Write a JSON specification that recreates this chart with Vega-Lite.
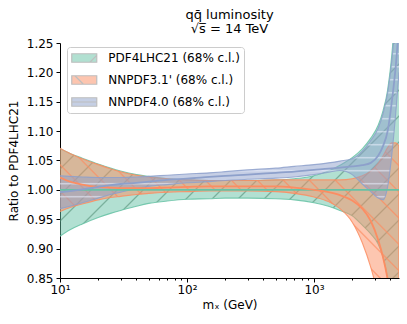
{
"$schema":"https://vega.github.io/schema/vega-lite/v6.json",
"autosize":{"type":"none"},
"padding":{"left":60,"top":43,"right":8,"bottom":46},
"width":339,"height":235,
"background":"white",
"config":{"view":{"stroke":null},"font":"DejaVu Sans",
"axis":{"labelFont":"DejaVu Sans","labelFontSize":12,"labelColor":"black","titleFont":"DejaVu Sans","titleFontSize":12,"titleFontWeight":"normal","titleColor":"black","domainColor":"black","tickColor":"black","grid":false,"domainWidth":1,"tickWidth":1},
"axisY":{"labelOverlap":false,"labelSeparation":0}},
"title":{"text":["qq̄ luminosity","√s̅ = 14 TeV"],"frame":"group","anchor":"middle","fontSize":13,"fontWeight":"normal","font":"DejaVu Sans","color":"black","lineHeight":14.5,"offset":1},
"data":{"values":[
{"pdf":"PDF4LHC21 (68% c.l.)","m":10,"lo":0.921,"c":1,"hi":1.070},
{"pdf":"PDF4LHC21 (68% c.l.)","m":12,"lo":0.932,"c":1,"hi":1.062},
{"pdf":"PDF4LHC21 (68% c.l.)","m":15,"lo":0.942,"c":1,"hi":1.054},
{"pdf":"PDF4LHC21 (68% c.l.)","m":20,"lo":0.953,"c":1,"hi":1.044},
{"pdf":"PDF4LHC21 (68% c.l.)","m":25,"lo":0.960,"c":1,"hi":1.037},
{"pdf":"PDF4LHC21 (68% c.l.)","m":30,"lo":0.965,"c":1,"hi":1.032},
{"pdf":"PDF4LHC21 (68% c.l.)","m":40,"lo":0.972,"c":1,"hi":1.026},
{"pdf":"PDF4LHC21 (68% c.l.)","m":50,"lo":0.977,"c":1,"hi":1.023},
{"pdf":"PDF4LHC21 (68% c.l.)","m":70,"lo":0.981,"c":1,"hi":1.019},
{"pdf":"PDF4LHC21 (68% c.l.)","m":100,"lo":0.984,"c":1,"hi":1.017},
{"pdf":"PDF4LHC21 (68% c.l.)","m":150,"lo":0.985,"c":1,"hi":1.016},
{"pdf":"PDF4LHC21 (68% c.l.)","m":200,"lo":0.986,"c":1,"hi":1.016},
{"pdf":"PDF4LHC21 (68% c.l.)","m":300,"lo":0.986,"c":1,"hi":1.016},
{"pdf":"PDF4LHC21 (68% c.l.)","m":500,"lo":0.985,"c":1,"hi":1.017},
{"pdf":"PDF4LHC21 (68% c.l.)","m":700,"lo":0.983,"c":1,"hi":1.019},
{"pdf":"PDF4LHC21 (68% c.l.)","m":1000,"lo":0.978,"c":1,"hi":1.024},
{"pdf":"PDF4LHC21 (68% c.l.)","m":1300,"lo":0.972,"c":1,"hi":1.032},
{"pdf":"PDF4LHC21 (68% c.l.)","m":1600,"lo":0.965,"c":1,"hi":1.042},
{"pdf":"PDF4LHC21 (68% c.l.)","m":2000,"lo":0.956,"c":1,"hi":1.055},
{"pdf":"PDF4LHC21 (68% c.l.)","m":2400,"lo":0.940,"c":1,"hi":1.070},
{"pdf":"PDF4LHC21 (68% c.l.)","m":2800,"lo":0.925,"c":1,"hi":1.088},
{"pdf":"PDF4LHC21 (68% c.l.)","m":3200,"lo":0.908,"c":1,"hi":1.110},
{"pdf":"PDF4LHC21 (68% c.l.)","m":3500,"lo":0.885,"c":1,"hi":1.135},
{"pdf":"PDF4LHC21 (68% c.l.)","m":3800,"lo":0.850,"c":1,"hi":1.170},
{"pdf":"PDF4LHC21 (68% c.l.)","m":4100,"lo":0.800,"c":1,"hi":1.230},
{"pdf":"PDF4LHC21 (68% c.l.)","m":4400,"lo":0.740,"c":1,"hi":1.320},
{"pdf":"PDF4LHC21 (68% c.l.)","m":4670,"lo":0.680,"c":1,"hi":1.450},
{"pdf":"NNPDF3.1' (68% c.l.)","m":10,"lo":0.963,"c":1.021,"hi":1.071},
{"pdf":"NNPDF3.1' (68% c.l.)","m":12,"lo":0.970,"c":1.014,"hi":1.062},
{"pdf":"NNPDF3.1' (68% c.l.)","m":15,"lo":0.976,"c":1.009,"hi":1.053},
{"pdf":"NNPDF3.1' (68% c.l.)","m":20,"lo":0.983,"c":1.005,"hi":1.043},
{"pdf":"NNPDF3.1' (68% c.l.)","m":25,"lo":0.987,"c":1.004,"hi":1.036},
{"pdf":"NNPDF3.1' (68% c.l.)","m":30,"lo":0.989,"c":1.003,"hi":1.031},
{"pdf":"NNPDF3.1' (68% c.l.)","m":40,"lo":0.992,"c":1.003,"hi":1.025},
{"pdf":"NNPDF3.1' (68% c.l.)","m":50,"lo":0.994,"c":1.003,"hi":1.022},
{"pdf":"NNPDF3.1' (68% c.l.)","m":70,"lo":0.996,"c":1.004,"hi":1.019},
{"pdf":"NNPDF3.1' (68% c.l.)","m":100,"lo":0.997,"c":1.005,"hi":1.017},
{"pdf":"NNPDF3.1' (68% c.l.)","m":150,"lo":0.998,"c":1.006,"hi":1.016},
{"pdf":"NNPDF3.1' (68% c.l.)","m":200,"lo":0.998,"c":1.006,"hi":1.016},
{"pdf":"NNPDF3.1' (68% c.l.)","m":300,"lo":0.998,"c":1.006,"hi":1.016},
{"pdf":"NNPDF3.1' (68% c.l.)","m":500,"lo":0.997,"c":1.006,"hi":1.017},
{"pdf":"NNPDF3.1' (68% c.l.)","m":700,"lo":0.994,"c":1.004,"hi":1.017},
{"pdf":"NNPDF3.1' (68% c.l.)","m":1000,"lo":0.988,"c":1.000,"hi":1.017},
{"pdf":"NNPDF3.1' (68% c.l.)","m":1300,"lo":0.980,"c":0.996,"hi":1.017},
{"pdf":"NNPDF3.1' (68% c.l.)","m":1600,"lo":0.968,"c":0.991,"hi":1.017},
{"pdf":"NNPDF3.1' (68% c.l.)","m":2000,"lo":0.945,"c":0.982,"hi":1.019},
{"pdf":"NNPDF3.1' (68% c.l.)","m":2400,"lo":0.910,"c":0.968,"hi":1.024},
{"pdf":"NNPDF3.1' (68% c.l.)","m":2800,"lo":0.868,"c":0.947,"hi":1.032},
{"pdf":"NNPDF3.1' (68% c.l.)","m":3200,"lo":0.820,"c":0.915,"hi":1.045},
{"pdf":"NNPDF3.1' (68% c.l.)","m":3500,"lo":0.780,"c":0.885,"hi":1.058},
{"pdf":"NNPDF3.1' (68% c.l.)","m":3800,"lo":0.730,"c":0.848,"hi":1.072},
{"pdf":"NNPDF3.1' (68% c.l.)","m":4100,"lo":0.680,"c":0.800,"hi":1.080},
{"pdf":"NNPDF3.1' (68% c.l.)","m":4400,"lo":0.630,"c":0.750,"hi":1.080},
{"pdf":"NNPDF3.1' (68% c.l.)","m":4670,"lo":0.580,"c":0.700,"hi":1.075},
{"pdf":"NNPDF4.0 (68% c.l.)","m":10,"lo":0.968,"c":0.996,"hi":1.024},
{"pdf":"NNPDF4.0 (68% c.l.)","m":12,"lo":0.972,"c":0.998,"hi":1.023},
{"pdf":"NNPDF4.0 (68% c.l.)","m":15,"lo":0.978,"c":1.001,"hi":1.022},
{"pdf":"NNPDF4.0 (68% c.l.)","m":20,"lo":0.986,"c":1.005,"hi":1.021},
{"pdf":"NNPDF4.0 (68% c.l.)","m":25,"lo":0.992,"c":1.008,"hi":1.021},
{"pdf":"NNPDF4.0 (68% c.l.)","m":30,"lo":0.996,"c":1.010,"hi":1.021},
{"pdf":"NNPDF4.0 (68% c.l.)","m":40,"lo":1.002,"c":1.012,"hi":1.022},
{"pdf":"NNPDF4.0 (68% c.l.)","m":50,"lo":1.006,"c":1.014,"hi":1.023},
{"pdf":"NNPDF4.0 (68% c.l.)","m":70,"lo":1.009,"c":1.017,"hi":1.025},
{"pdf":"NNPDF4.0 (68% c.l.)","m":100,"lo":1.012,"c":1.019,"hi":1.027},
{"pdf":"NNPDF4.0 (68% c.l.)","m":150,"lo":1.014,"c":1.022,"hi":1.029},
{"pdf":"NNPDF4.0 (68% c.l.)","m":200,"lo":1.016,"c":1.024,"hi":1.031},
{"pdf":"NNPDF4.0 (68% c.l.)","m":300,"lo":1.018,"c":1.026,"hi":1.034},
{"pdf":"NNPDF4.0 (68% c.l.)","m":500,"lo":1.020,"c":1.029,"hi":1.037},
{"pdf":"NNPDF4.0 (68% c.l.)","m":700,"lo":1.022,"c":1.031,"hi":1.040},
{"pdf":"NNPDF4.0 (68% c.l.)","m":1000,"lo":1.026,"c":1.034,"hi":1.043},
{"pdf":"NNPDF4.0 (68% c.l.)","m":1300,"lo":1.030,"c":1.036,"hi":1.046},
{"pdf":"NNPDF4.0 (68% c.l.)","m":1600,"lo":1.033,"c":1.038,"hi":1.049},
{"pdf":"NNPDF4.0 (68% c.l.)","m":2000,"lo":1.026,"c":1.040,"hi":1.053},
{"pdf":"NNPDF4.0 (68% c.l.)","m":2400,"lo":1.010,"c":1.042,"hi":1.066},
{"pdf":"NNPDF4.0 (68% c.l.)","m":2800,"lo":0.997,"c":1.046,"hi":1.084},
{"pdf":"NNPDF4.0 (68% c.l.)","m":3200,"lo":0.986,"c":1.058,"hi":1.105},
{"pdf":"NNPDF4.0 (68% c.l.)","m":3500,"lo":0.983,"c":1.075,"hi":1.130},
{"pdf":"NNPDF4.0 (68% c.l.)","m":3800,"lo":1.005,"c":1.100,"hi":1.165},
{"pdf":"NNPDF4.0 (68% c.l.)","m":4100,"lo":1.060,"c":1.150,"hi":1.220},
{"pdf":"NNPDF4.0 (68% c.l.)","m":4400,"lo":1.130,"c":1.210,"hi":1.300},
{"pdf":"NNPDF4.0 (68% c.l.)","m":4670,"lo":1.200,"c":1.280,"hi":1.420}
]},
"encoding":{"x":{"field":"m","type":"quantitative","title":"mₓ (GeV)","scale":{"type":"log","domain":[10,4670],"nice":false},
"axis":{"values":[10,20,30,40,50,60,70,80,90,100,200,300,400,500,600,700,800,900,1000,2000,3000,4000],"tickCount":60,
"labelExpr":"datum.value == 10 ? '10¹' : datum.value == 100 ? '10²' : datum.value == 1000 ? '10³' : ''",
"tickSize":{"condition":{"test":"datum.value == 10 || datum.value == 100 || datum.value == 1000","value":4},"value":2},
"labelFlush":false,"labelOverlap":false,"labelPadding":2,"titlePadding":4}}},
"layer":[
{"transform":[{"filter":{"field":"pdf","equal":"PDF4LHC21 (68% c.l.)"}}],
 "mark":{"type":"area","interpolate":"monotone","opacity":0.5,"clip":true},
 "encoding":{"y":{"field":"lo","type":"quantitative","title":"Ratio to PDF4LHC21","scale":{"domain":[0.85,1.25],"nice":false,"zero":false},
   "axis":{"values":[0.85,0.9,0.95,1,1.05,1.1,1.15,1.2,1.25],"tickCount":30,"labelExpr":"format(datum.value, '.2f')","tickSize":4,"labelPadding":3,"titlePadding":6,"labelOverlap":false,"labelSeparation":0}},
  "y2":{"field":"hi"},
  "fill":{"field":"pdf","type":"nominal","scale":{"domain":["PDF4LHC21 (68% c.l.)","NNPDF3.1' (68% c.l.)","NNPDF4.0 (68% c.l.)"],"range":["#66c2a5","#fc8d62","#8da0cb"]},
   "legend":{"title":null,"orient":"none","legendX":7,"legendY":4,"direction":"vertical","padding":4,"fillColor":"rgba(255,255,255,0.8)","strokeColor":"#cccccc","cornerRadius":3,
    "symbolSize":156.25,"symbolOpacity":0.5,"symbolStrokeColor":"#7f7f7f","symbolStrokeWidth":1.2,"symbolOffset":6.25,"labelOffset":17,"labelFontSize":12,"labelFont":"DejaVu Sans","labelColor":"black","rowPadding":8,"labelLimit":300,
    "encode":{"symbols":{"update":{"shape":{"signal":"indexof(datum.value,'PDF4LHC')>=0 ? 'M-2,-0.68H2V0.68H-2Z M0.9,0.68L2,-0.42' : indexof(datum.value,'3.1')>=0 ? 'M-2,-0.68H2V0.68H-2Z M-1.5,-0.68L-0.14,0.68' : 'M-2,-0.68H2V0.68H-2Z M-2,0H2'"},"stroke":{"value":"#7f7f7f"},"strokeWidth":{"value":1.2}}}}}}}},
{"transform":[{"filter":{"field":"pdf","equal":"PDF4LHC21 (68% c.l.)"}}],
 "mark":{"type":"area","interpolate":"monotone","opacity":0.6,"clip":true,
  "fill":{"gradient":"linear","x1":0,"y1":0,"x2":0.8395,"y2":1.1203,"stops":[
{"offset":0.0100,"color":"#508c7300"},{"offset":0.0122,"color":"#508c73"},{"offset":0.0143,"color":"#508c7300"},
{"offset":0.0429,"color":"#508c7300"},{"offset":0.0450,"color":"#508c73"},{"offset":0.0472,"color":"#508c7300"},
{"offset":0.0757,"color":"#508c7300"},{"offset":0.0779,"color":"#508c73"},{"offset":0.0800,"color":"#508c7300"},
{"offset":0.1086,"color":"#508c7300"},{"offset":0.1107,"color":"#508c73"},{"offset":0.1129,"color":"#508c7300"},
{"offset":0.1414,"color":"#508c7300"},{"offset":0.1436,"color":"#508c73"},{"offset":0.1457,"color":"#508c7300"},
{"offset":0.1743,"color":"#508c7300"},{"offset":0.1764,"color":"#508c73"},{"offset":0.1786,"color":"#508c7300"},
{"offset":0.2071,"color":"#508c7300"},{"offset":0.2093,"color":"#508c73"},{"offset":0.2114,"color":"#508c7300"},
{"offset":0.2400,"color":"#508c7300"},{"offset":0.2421,"color":"#508c73"},{"offset":0.2443,"color":"#508c7300"},
{"offset":0.2728,"color":"#508c7300"},{"offset":0.2750,"color":"#508c73"},{"offset":0.2771,"color":"#508c7300"},
{"offset":0.3057,"color":"#508c7300"},{"offset":0.3078,"color":"#508c73"},{"offset":0.3100,"color":"#508c7300"},
{"offset":0.3385,"color":"#508c7300"},{"offset":0.3407,"color":"#508c73"},{"offset":0.3428,"color":"#508c7300"},
{"offset":0.3714,"color":"#508c7300"},{"offset":0.3735,"color":"#508c73"},{"offset":0.3757,"color":"#508c7300"},
{"offset":0.4042,"color":"#508c7300"},{"offset":0.4064,"color":"#508c73"},{"offset":0.4085,"color":"#508c7300"},
{"offset":0.4371,"color":"#508c7300"},{"offset":0.4392,"color":"#508c73"},{"offset":0.4414,"color":"#508c7300"},
{"offset":0.4699,"color":"#508c7300"},{"offset":0.4721,"color":"#508c73"},{"offset":0.4742,"color":"#508c7300"},
{"offset":0.5028,"color":"#508c7300"},{"offset":0.5049,"color":"#508c73"},{"offset":0.5071,"color":"#508c7300"},
{"offset":0.5356,"color":"#508c7300"},{"offset":0.5378,"color":"#508c73"},{"offset":0.5399,"color":"#508c7300"},
{"offset":0.5685,"color":"#508c7300"},{"offset":0.5706,"color":"#508c73"},{"offset":0.5728,"color":"#508c7300"},
{"offset":0.6013,"color":"#508c7300"},{"offset":0.6035,"color":"#508c73"},{"offset":0.6056,"color":"#508c7300"},
{"offset":0.6342,"color":"#508c7300"},{"offset":0.6363,"color":"#508c73"},{"offset":0.6385,"color":"#508c7300"},
{"offset":0.6670,"color":"#508c7300"},{"offset":0.6692,"color":"#508c73"},{"offset":0.6713,"color":"#508c7300"},
{"offset":0.6999,"color":"#508c7300"},{"offset":0.7020,"color":"#508c73"},{"offset":0.7042,"color":"#508c7300"},
{"offset":0.7327,"color":"#508c7300"},{"offset":0.7349,"color":"#508c73"},{"offset":0.7370,"color":"#508c7300"},
{"offset":0.7656,"color":"#508c7300"},{"offset":0.7677,"color":"#508c73"},{"offset":0.7699,"color":"#508c7300"},
{"offset":0.7984,"color":"#508c7300"},{"offset":0.8006,"color":"#508c73"},{"offset":0.8027,"color":"#508c7300"},
{"offset":0.8313,"color":"#508c7300"},{"offset":0.8334,"color":"#508c73"},{"offset":0.8356,"color":"#508c7300"},
{"offset":0.8641,"color":"#508c7300"},{"offset":0.8663,"color":"#508c73"},{"offset":0.8684,"color":"#508c7300"},
{"offset":0.8970,"color":"#508c7300"},{"offset":0.8991,"color":"#508c73"},{"offset":0.9013,"color":"#508c7300"},
{"offset":0.9298,"color":"#508c7300"},{"offset":0.9320,"color":"#508c73"},{"offset":0.9341,"color":"#508c7300"},
{"offset":0.9627,"color":"#508c7300"},{"offset":0.9648,"color":"#508c73"},{"offset":0.9670,"color":"#508c7300"},
{"offset":0.9955,"color":"#508c7300"},{"offset":0.9976,"color":"#508c73"},{"offset":0.9998,"color":"#508c7300"}]}},
 "encoding":{"y":{"field":"lo","type":"quantitative","title":"Ratio to PDF4LHC21"},"y2":{"field":"hi"}}},
{"transform":[{"filter":{"field":"pdf","equal":"PDF4LHC21 (68% c.l.)"}}],
 "mark":{"type":"line","interpolate":"monotone","clip":true,"color":"#66c2a5","strokeWidth":1.1,"opacity":0.85},
 "encoding":{"y":{"field":"lo","type":"quantitative","title":"Ratio to PDF4LHC21"}}},
{"transform":[{"filter":{"field":"pdf","equal":"PDF4LHC21 (68% c.l.)"}}],
 "mark":{"type":"line","interpolate":"monotone","clip":true,"color":"#66c2a5","strokeWidth":1.1,"opacity":0.85},
 "encoding":{"y":{"field":"hi","type":"quantitative","title":"Ratio to PDF4LHC21"}}},
{"transform":[{"filter":{"field":"pdf","equal":"NNPDF3.1' (68% c.l.)"}}],
 "mark":{"type":"area","interpolate":"monotone","opacity":0.5,"clip":true},
 "encoding":{"y":{"field":"lo","type":"quantitative","title":"Ratio to PDF4LHC21"},"y2":{"field":"hi"},"fill":{"field":"pdf","type":"nominal"}}},
{"transform":[{"filter":{"field":"pdf","equal":"NNPDF3.1' (68% c.l.)"}}],
 "mark":{"type":"area","interpolate":"monotone","opacity":0.8,"clip":true,
  "fill":{"gradient":"linear","x1":0,"y1":1,"x2":1.0703,"y2":0.0819,"stops":[
{"offset":0.0120,"color":"#fc8d6200"},{"offset":0.0147,"color":"#fc8d62"},{"offset":0.0174,"color":"#fc8d6200"},
{"offset":0.0533,"color":"#fc8d6200"},{"offset":0.0560,"color":"#fc8d62"},{"offset":0.0587,"color":"#fc8d6200"},
{"offset":0.0946,"color":"#fc8d6200"},{"offset":0.0973,"color":"#fc8d62"},{"offset":0.1000,"color":"#fc8d6200"},
{"offset":0.1358,"color":"#fc8d6200"},{"offset":0.1385,"color":"#fc8d62"},{"offset":0.1412,"color":"#fc8d6200"},
{"offset":0.1771,"color":"#fc8d6200"},{"offset":0.1798,"color":"#fc8d62"},{"offset":0.1825,"color":"#fc8d6200"},
{"offset":0.2184,"color":"#fc8d6200"},{"offset":0.2211,"color":"#fc8d62"},{"offset":0.2238,"color":"#fc8d6200"},
{"offset":0.2597,"color":"#fc8d6200"},{"offset":0.2624,"color":"#fc8d62"},{"offset":0.2651,"color":"#fc8d6200"},
{"offset":0.3010,"color":"#fc8d6200"},{"offset":0.3037,"color":"#fc8d62"},{"offset":0.3064,"color":"#fc8d6200"},
{"offset":0.3422,"color":"#fc8d6200"},{"offset":0.3449,"color":"#fc8d62"},{"offset":0.3476,"color":"#fc8d6200"},
{"offset":0.3835,"color":"#fc8d6200"},{"offset":0.3862,"color":"#fc8d62"},{"offset":0.3889,"color":"#fc8d6200"},
{"offset":0.4248,"color":"#fc8d6200"},{"offset":0.4275,"color":"#fc8d62"},{"offset":0.4302,"color":"#fc8d6200"},
{"offset":0.4661,"color":"#fc8d6200"},{"offset":0.4688,"color":"#fc8d62"},{"offset":0.4715,"color":"#fc8d6200"},
{"offset":0.5074,"color":"#fc8d6200"},{"offset":0.5101,"color":"#fc8d62"},{"offset":0.5128,"color":"#fc8d6200"},
{"offset":0.5486,"color":"#fc8d6200"},{"offset":0.5513,"color":"#fc8d62"},{"offset":0.5540,"color":"#fc8d6200"},
{"offset":0.5899,"color":"#fc8d6200"},{"offset":0.5926,"color":"#fc8d62"},{"offset":0.5953,"color":"#fc8d6200"},
{"offset":0.6312,"color":"#fc8d6200"},{"offset":0.6339,"color":"#fc8d62"},{"offset":0.6366,"color":"#fc8d6200"},
{"offset":0.6725,"color":"#fc8d6200"},{"offset":0.6752,"color":"#fc8d62"},{"offset":0.6779,"color":"#fc8d6200"},
{"offset":0.7138,"color":"#fc8d6200"},{"offset":0.7165,"color":"#fc8d62"},{"offset":0.7192,"color":"#fc8d6200"},
{"offset":0.7550,"color":"#fc8d6200"},{"offset":0.7577,"color":"#fc8d62"},{"offset":0.7604,"color":"#fc8d6200"},
{"offset":0.7963,"color":"#fc8d6200"},{"offset":0.7990,"color":"#fc8d62"},{"offset":0.8017,"color":"#fc8d6200"},
{"offset":0.8376,"color":"#fc8d6200"},{"offset":0.8403,"color":"#fc8d62"},{"offset":0.8430,"color":"#fc8d6200"},
{"offset":0.8789,"color":"#fc8d6200"},{"offset":0.8816,"color":"#fc8d62"},{"offset":0.8843,"color":"#fc8d6200"},
{"offset":0.9202,"color":"#fc8d6200"},{"offset":0.9229,"color":"#fc8d62"},{"offset":0.9256,"color":"#fc8d6200"},
{"offset":0.9614,"color":"#fc8d6200"},{"offset":0.9641,"color":"#fc8d62"},{"offset":0.9668,"color":"#fc8d6200"}]}},
 "encoding":{"y":{"field":"lo","type":"quantitative","title":"Ratio to PDF4LHC21"},"y2":{"field":"hi"}}},
{"transform":[{"filter":{"field":"pdf","equal":"NNPDF3.1' (68% c.l.)"}}],
 "mark":{"type":"line","interpolate":"monotone","clip":true,"color":"#fc8d62","strokeWidth":1.1,"opacity":0.85},
 "encoding":{"y":{"field":"lo","type":"quantitative","title":"Ratio to PDF4LHC21"}}},
{"transform":[{"filter":{"field":"pdf","equal":"NNPDF3.1' (68% c.l.)"}}],
 "mark":{"type":"line","interpolate":"monotone","clip":true,"color":"#fc8d62","strokeWidth":1.1,"opacity":0.85},
 "encoding":{"y":{"field":"hi","type":"quantitative","title":"Ratio to PDF4LHC21"}}},
{"transform":[{"filter":{"field":"pdf","equal":"NNPDF3.1' (68% c.l.)"}},{"filter":{"field":"m","equal":4670}}],
 "mark":{"type":"rule","clip":true,"color":"#fc8d62","strokeWidth":1.4,"opacity":0.85},
 "encoding":{"y":{"field":"lo","type":"quantitative","title":"Ratio to PDF4LHC21"},"y2":{"field":"hi"}}},
{"transform":[{"filter":{"field":"pdf","equal":"NNPDF4.0 (68% c.l.)"}}],
 "mark":{"type":"area","interpolate":"monotone","opacity":0.5,"clip":true},
 "encoding":{"y":{"field":"lo","type":"quantitative","title":"Ratio to PDF4LHC21"},"y2":{"field":"hi"},"fill":{"field":"pdf","type":"nominal"}}},
{"transform":[{"filter":{"field":"pdf","equal":"NNPDF4.0 (68% c.l.)"}}],
 "mark":{"type":"area","interpolate":"monotone","opacity":0.7,"clip":true,
  "fill":{"gradient":"linear","x1":0,"y1":0,"x2":0,"y2":1,"stops":[
{"offset":0.0200,"color":"#e6ecfa00"},{"offset":0.0249,"color":"#e6ecfa"},{"offset":0.0298,"color":"#e6ecfa00"},
{"offset":0.0690,"color":"#e6ecfa00"},{"offset":0.0739,"color":"#e6ecfa"},{"offset":0.0788,"color":"#e6ecfa00"},
{"offset":0.1179,"color":"#e6ecfa00"},{"offset":0.1228,"color":"#e6ecfa"},{"offset":0.1277,"color":"#e6ecfa00"},
{"offset":0.1669,"color":"#e6ecfa00"},{"offset":0.1718,"color":"#e6ecfa"},{"offset":0.1767,"color":"#e6ecfa00"},
{"offset":0.2158,"color":"#e6ecfa00"},{"offset":0.2207,"color":"#e6ecfa"},{"offset":0.2256,"color":"#e6ecfa00"},
{"offset":0.2648,"color":"#e6ecfa00"},{"offset":0.2697,"color":"#e6ecfa"},{"offset":0.2746,"color":"#e6ecfa00"},
{"offset":0.3137,"color":"#e6ecfa00"},{"offset":0.3186,"color":"#e6ecfa"},{"offset":0.3235,"color":"#e6ecfa00"},
{"offset":0.3627,"color":"#e6ecfa00"},{"offset":0.3676,"color":"#e6ecfa"},{"offset":0.3725,"color":"#e6ecfa00"},
{"offset":0.4116,"color":"#e6ecfa00"},{"offset":0.4165,"color":"#e6ecfa"},{"offset":0.4214,"color":"#e6ecfa00"},
{"offset":0.4606,"color":"#e6ecfa00"},{"offset":0.4655,"color":"#e6ecfa"},{"offset":0.4704,"color":"#e6ecfa00"},
{"offset":0.5095,"color":"#e6ecfa00"},{"offset":0.5144,"color":"#e6ecfa"},{"offset":0.5193,"color":"#e6ecfa00"},
{"offset":0.5585,"color":"#e6ecfa00"},{"offset":0.5634,"color":"#e6ecfa"},{"offset":0.5683,"color":"#e6ecfa00"},
{"offset":0.6074,"color":"#e6ecfa00"},{"offset":0.6123,"color":"#e6ecfa"},{"offset":0.6172,"color":"#e6ecfa00"},
{"offset":0.6564,"color":"#e6ecfa00"},{"offset":0.6613,"color":"#e6ecfa"},{"offset":0.6662,"color":"#e6ecfa00"},
{"offset":0.7053,"color":"#e6ecfa00"},{"offset":0.7102,"color":"#e6ecfa"},{"offset":0.7151,"color":"#e6ecfa00"},
{"offset":0.7543,"color":"#e6ecfa00"},{"offset":0.7592,"color":"#e6ecfa"},{"offset":0.7641,"color":"#e6ecfa00"},
{"offset":0.8032,"color":"#e6ecfa00"},{"offset":0.8081,"color":"#e6ecfa"},{"offset":0.8130,"color":"#e6ecfa00"},
{"offset":0.8522,"color":"#e6ecfa00"},{"offset":0.8571,"color":"#e6ecfa"},{"offset":0.8620,"color":"#e6ecfa00"},
{"offset":0.9011,"color":"#e6ecfa00"},{"offset":0.9060,"color":"#e6ecfa"},{"offset":0.9109,"color":"#e6ecfa00"},
{"offset":0.9501,"color":"#e6ecfa00"},{"offset":0.9550,"color":"#e6ecfa"},{"offset":0.9599,"color":"#e6ecfa00"}]}},
 "encoding":{"y":{"field":"lo","type":"quantitative","title":"Ratio to PDF4LHC21"},"y2":{"field":"hi"}}},
{"transform":[{"filter":{"field":"pdf","equal":"NNPDF4.0 (68% c.l.)"}}],
 "mark":{"type":"line","interpolate":"monotone","clip":true,"color":"#8da0cb","strokeWidth":1.1,"opacity":0.85},
 "encoding":{"y":{"field":"lo","type":"quantitative","title":"Ratio to PDF4LHC21"}}},
{"transform":[{"filter":{"field":"pdf","equal":"NNPDF4.0 (68% c.l.)"}}],
 "mark":{"type":"line","interpolate":"monotone","clip":true,"color":"#8da0cb","strokeWidth":1.1,"opacity":0.85},
 "encoding":{"y":{"field":"hi","type":"quantitative","title":"Ratio to PDF4LHC21"}}},
{"transform":[{"filter":{"field":"pdf","equal":"PDF4LHC21 (68% c.l.)"}}],
 "mark":{"type":"line","interpolate":"monotone","clip":true,"color":"#66c2a5","strokeWidth":1.8},
 "encoding":{"y":{"field":"c","type":"quantitative","title":"Ratio to PDF4LHC21"}}},
{"transform":[{"filter":{"field":"pdf","equal":"NNPDF3.1' (68% c.l.)"}}],
 "mark":{"type":"line","interpolate":"monotone","clip":true,"color":"#fc8d62","strokeWidth":1.8},
 "encoding":{"y":{"field":"c","type":"quantitative","title":"Ratio to PDF4LHC21"}}},
{"transform":[{"filter":{"field":"pdf","equal":"NNPDF4.0 (68% c.l.)"}}],
 "mark":{"type":"line","interpolate":"monotone","clip":true,"color":"#8da0cb","strokeWidth":1.8},
 "encoding":{"y":{"field":"c","type":"quantitative","title":"Ratio to PDF4LHC21"}}}
]
}
